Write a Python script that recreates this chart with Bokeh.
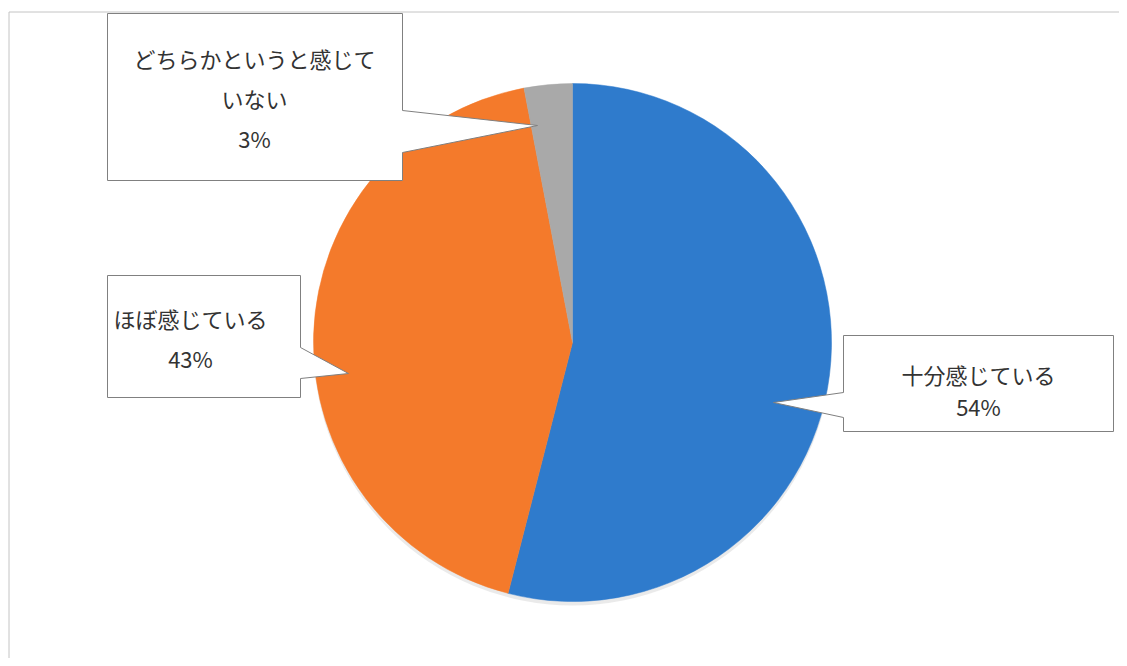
import numpy as np
from bokeh.plotting import figure
from bokeh.models import Range1d
from bokeh.core.properties import value
from bokeh.embed import file_html
from bokeh.resources import INLINE

# ---- data ----
categories = ["十分感じている", "ほぼ感じている", "どちらかというと感じていない"]
percents = [54, 43, 3]
colors = ["#2f7bcc", "#f47a2b", "#a9a9a9"]
label_lines = [["十分感じている", "54%"],
               ["ほぼ感じている", "43%"],
               ["どちらかというと感じて", "いない", "3%"]]

W, H = 1119, 658
p = figure(width=W, height=H, output_backend="svg", toolbar_location=None,
           x_range=Range1d(0, W), y_range=Range1d(-H, 0),
           min_border=0, background_fill_color="white")
p.axis.visible = False
p.grid.visible = False
p.outline_line_color = None

# outer frame (only top/left visible)
p.quad(left=[8.5], right=[1400], top=[-11.5], bottom=[-1000],
       fill_color=None, line_color="#c4c4c4", line_width=1)

# ---- pie ----
cx, cy, R = 572, -342, 259
fr = np.array(percents, dtype=float) / sum(percents)
cum = np.concatenate([[0], np.cumsum(fr)])
start = np.pi / 2 - 2 * np.pi * cum[:-1]
end = np.pi / 2 - 2 * np.pi * cum[1:]

# soft shadow
p.wedge(x=[cx], y=[cy - 4], radius=R, start_angle=[0], end_angle=[2 * np.pi],
        fill_color="#d9d9d9", fill_alpha=0.55, line_color=None)
p.wedge(x=cx, y=cy, radius=R, start_angle=list(start), end_angle=list(end),
        direction="clock", fill_color=colors, line_color=colors, line_width=0.5)

# ---- callouts ----
callouts = [
    # blue
    dict(xs=[843, 1113, 1113, 843, 843, 773, 843],
         ys=[335, 335, 431, 431, 417, 402, 392],
         tx=978, ty=[373, 405]),
    # orange
    dict(xs=[107, 300, 300, 348, 300, 300, 107],
         ys=[275, 275, 347, 373, 378, 397, 397],
         tx=190, ty=[317, 357]),
    # gray
    dict(xs=[107, 402, 402, 537, 402, 402, 107],
         ys=[13, 13, 110, 125, 152, 180, 180],
         tx=254, ty=[57, 97, 137]),
]
for c, lines in zip(callouts, label_lines):
    p.patch(x=c["xs"], y=[-v for v in c["ys"]], fill_color="white",
            line_color="#808080", line_width=1)
    p.text(x=[c["tx"]] * len(lines), y=[-v for v in c["ty"]], text=lines,
           text_font=value("Noto Sans CJK JP"), text_font_size="22px",
           text_color="#333333", text_align="center", text_baseline="middle")

open("out.html", "w").write(file_html(p, INLINE))
